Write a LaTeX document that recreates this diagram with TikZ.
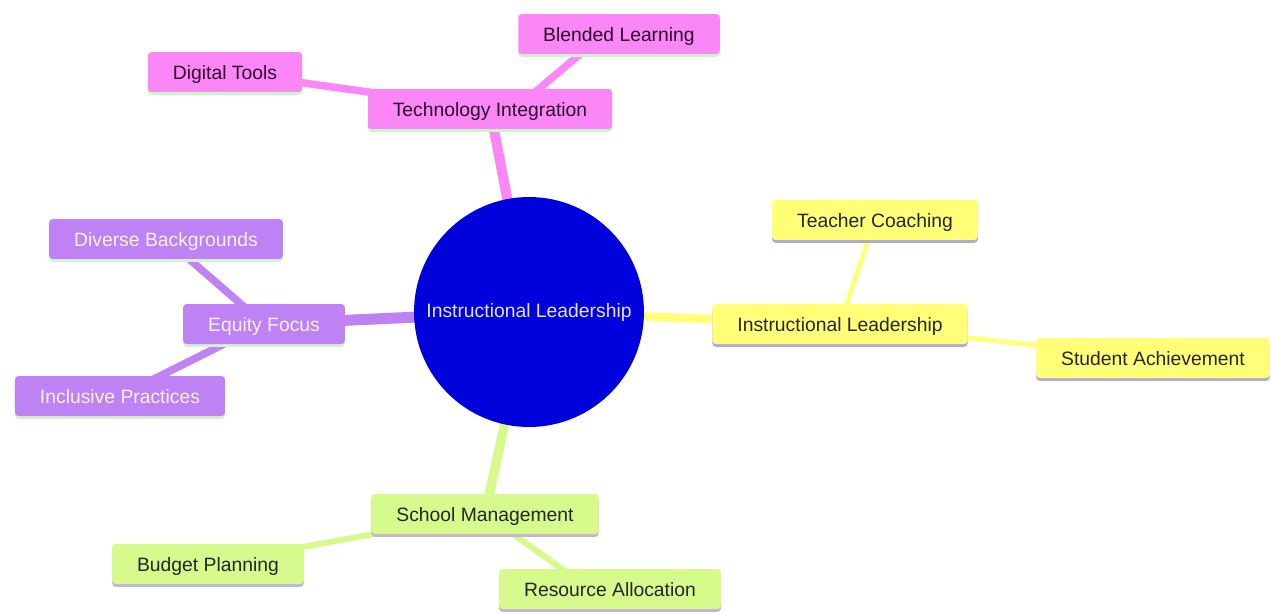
\documentclass[tikz,border=0pt]{standalone}
\usepackage{fontspec}
\setmainfont{Liberation Sans}
\usetikzlibrary{shadows,backgrounds}

\definecolor{pinkfill}{RGB}{250,135,245}
\definecolor{pinktext}{RGB}{45,10,45}
\definecolor{pinkshade}{RGB}{200,245,200}
\definecolor{purpfill}{RGB}{190,130,245}
\definecolor{purptext}{RGB}{248,244,255}
\definecolor{purpshade}{RGB}{215,240,210}
\definecolor{yelfill}{RGB}{255,255,120}
\definecolor{yelshade}{RGB}{175,170,220}
\definecolor{grnfill}{RGB}{215,250,140}
\definecolor{grnshade}{RGB}{190,180,220}
\definecolor{rootblue}{RGB}{0,0,220}
\definecolor{roottext}{RGB}{228,228,255}

\begin{document}
\begin{tikzpicture}[x=0.02cm,y=-0.02cm,
    font=\fontsize{11pt}{13pt}\selectfont,
    box/.style={rectangle,rounded corners=2pt,minimum height=0.8cm,inner xsep=0.5cm,
        text height=8pt,text depth=0pt,
        drop shadow={shadow xshift=0pt,shadow yshift=-1.6pt,opacity=1,fill=#1}},
    pinkbox/.style={box=pinkshade,fill=pinkfill,text=pinktext},
    purpbox/.style={box=purpshade,fill=purpfill,text=purptext},
    yelbox/.style={box=yelshade,fill=yelfill,text=black!85},
    grnbox/.style={box=grnshade,fill=grnfill,text=black!85}]
    \useasboundingbox (0,0) rectangle (1271,612);

    \node[circle,fill=rootblue,text=roottext,minimum size=4.6cm,inner sep=0pt] (C) at (529,312){Instructional Leadership};

    \node[pinkbox] (TI) at (490,109){Technology Integration};
    \node[pinkbox] (DT) at (225,72){Digital Tools};
    \node[pinkbox] (BL) at (619,34){Blended Learning};

    \node[purpbox] (EF) at (264,324){Equity Focus};
    \node[purpbox] (DB) at (166,239){Diverse Backgrounds};
    \node[purpbox] (IP) at (120,396){Inclusive Practices};

    \node[yelbox] (IL) at (840,324){Instructional Leadership};
    \node[yelbox] (TC) at (875,220){Teacher Coaching};
    \node[yelbox] (SA) at (1153,358){Student Achievement};

    \node[grnbox] (SM) at (485,514){School Management};
    \node[grnbox] (BP) at (208,564){Budget Planning};
    \node[grnbox] (RA) at (610,589){Resource Allocation};

    \begin{pgfonlayer}{background}
        \draw[pinkfill,line width=0.2cm] (C.center) -- (TI.center);
        \draw[pinkfill,line width=0.15cm] (TI.center) -- (DT.center);
        \draw[pinkfill,line width=0.15cm] ([xshift=0.5cm]TI.center) -- ([xshift=-0.3cm]BL.center);

        \draw[purpfill,line width=0.22cm] (C.center) -- (EF.center);
        \draw[purpfill,line width=0.15cm] (EF.center) -- (DB.center);
        \draw[purpfill,line width=0.15cm] (EF.center) -- (IP.center);

        \draw[yelfill,line width=0.17cm] (C.center) -- (IL.center);
        \draw[yelfill,line width=0.1cm] (IL.center) -- (TC.center);
        \draw[yelfill,line width=0.1cm] (IL.center) -- (SA.center);

        \draw[grnfill,line width=0.19cm] (C.center) -- (SM.center);
        \draw[grnfill,line width=0.12cm] (SM.center) -- (BP.center);
        \draw[grnfill,line width=0.12cm] (SM.center) -- ([xshift=-0.4cm]RA.center);
    \end{pgfonlayer}
\end{tikzpicture}
\end{document}
